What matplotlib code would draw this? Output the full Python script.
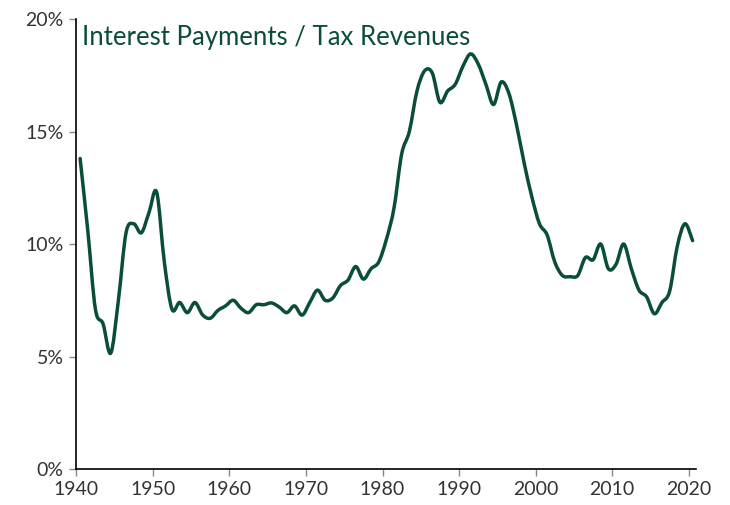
import numpy as np
import matplotlib
matplotlib.use('Agg')
import matplotlib.pyplot as plt
from matplotlib.path import Path
from matplotlib.patches import PathPatch

#annual values (interest payments as % of tax revenues)
years = list(range(1940, 2021))
ratio = [13.8, 10.6, 7.1, 6.45, 5.15, 7.5, 10.5, 10.9, 10.5, 11.4,
         12.3, 9.2, 7.1, 7.4, 6.95, 7.4, 6.85, 6.7, 7.05, 7.25,
         7.5, 7.15, 6.95, 7.3, 7.3, 7.38, 7.2, 6.95, 7.25, 6.84,
         7.4, 7.95, 7.5, 7.6, 8.15, 8.4, 9.0, 8.44, 8.9, 9.2,
         10.2, 11.6, 14.0, 15.0, 16.8, 17.7, 17.6, 16.3, 16.8, 17.1,
         17.9, 18.45, 18.0, 17.1, 16.2, 17.2, 16.7, 15.3, 13.6, 12.1,
         10.9, 10.4, 9.2, 8.6, 8.55, 8.6, 9.4, 9.3, 10.0, 8.9,
         9.1, 10.0, 8.9, 7.95, 7.65, 6.9, 7.4, 7.9, 9.9, 10.9,
         10.15]

yticks = [0, 5, 10, 15, 20]
ytick_labels = ['0%', '5%', '10%', '15%', '20%']
xticks = [1940, 1950, 1960, 1970, 1980, 1990, 2000, 2010, 2020]
title = 'Interest Payments / Tax Revenues'

green = '#0b4d3b'


def smoothPath(x, y, tension=0.5):
    '''
    Catmull-Rom style bezier path through the data points,
    so the line is drawn as a smooth spline like the original.
    '''
    x = np.asarray(x, float)
    y = np.asarray(y, float)
    verts = [(x[0], y[0])]
    codes = [Path.MOVETO]
    n = len(x)
    for i in range(n - 1):
        x0, y0 = (x[i - 1], y[i - 1]) if i > 0 else (x[i], y[i])
        x3, y3 = (x[i + 2], y[i + 2]) if i < n - 2 else (x[i + 1], y[i + 1])
        c1 = (x[i] + (x[i + 1] - x0) * tension / 3.,
              y[i] + (y[i + 1] - y0) * tension / 3.)
        c2 = (x[i + 1] - (x3 - x[i]) * tension / 3.,
              y[i + 1] - (y3 - y[i]) * tension / 3.)
        verts += [c1, c2, (x[i + 1], y[i + 1])]
        codes += [Path.CURVE4] * 3
    return Path(verts, codes)


plt.rcParams['font.family'] = ['Lato', 'DejaVu Sans']

fig = plt.figure(figsize=(7.3, 5.05), dpi=100)
ax = fig.add_axes([0.1045, 0.0713, 0.8495, 0.891])

#points sit in the middle of each year
xs = np.array(years) + 0.5
patch = PathPatch(smoothPath(xs, ratio, tension=0.5), fill=False,
                  edgecolor=green, lw=2.5, capstyle='round', joinstyle='round')
ax.add_patch(patch)

ax.set_xlim(1940, 2021)
ax.set_ylim(0, 20)
ax.set_xticks(xticks)
ax.set_yticks(yticks)
ax.set_yticklabels(ytick_labels)

for side in ['top', 'right']:
    ax.spines[side].set_visible(False)
for side in ['left', 'bottom']:
    ax.spines[side].set_linewidth(1.2)
    ax.spines[side].set_color('black')

ax.tick_params(axis='both', direction='out', length=5, width=1,
               color='#888888', labelsize=14, labelcolor='#333333', pad=4)

ax.text(0.009, 0.958, title, transform=ax.transAxes, fontsize=18.5,
        color=green, va='center', ha='left')

fig.savefig('out.png', dpi=100)
